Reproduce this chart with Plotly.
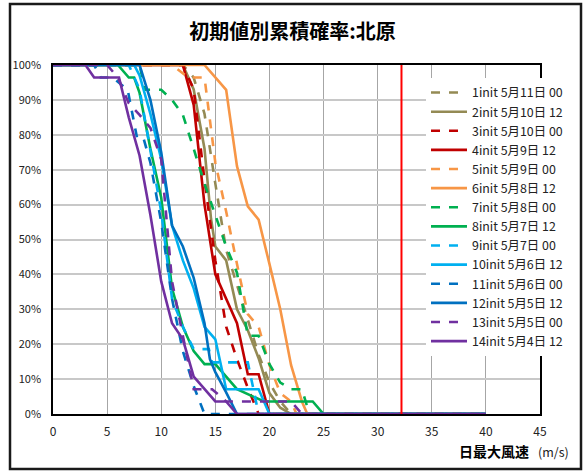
import plotly.graph_objects as go

# ---- data (wind speed m/s, cumulative probability %) ----
LABELS = ["1init 5月11日 00", "2init 5月10日 12", "3init 5月10日 00", "4init 5月9日 12",
          "5init 5月9日 00", "6init 5月8日 12", "7init 5月8日 00", "8init 5月7日 12",
          "9init 5月7日 00", "10init 5月6日 12", "11init 5月6日 00", "12init 5月5日 12",
          "13init 5月5日 00", "14init 5月4日 12"]

X1 = [0, 12, 13, 14, 15, 16, 17, 18, 19, 20, 21, 22, 40]
Y1 = [100, 100, 96.4, 86, 66, 47, 37, 27, 17, 9, 3.6, 0, 0]

X2 = [0, 12, 13, 14, 14.6, 15, 16, 17, 18, 19, 20, 21, 22, 40]
Y2 = [100, 100, 93, 76, 56, 48, 44, 30, 24, 16, 6, 1.8, 0, 0]

X3 = [0, 12, 13, 14, 15, 16, 17, 18, 19, 40]
Y3 = [100, 100, 93, 67, 44, 25, 15.7, 7.5, 0, 0]

X4 = [0, 12, 13, 14, 15, 16, 17, 18, 19, 20, 40]
Y4 = [100, 100, 88.6, 60, 40, 33, 26, 11.4, 11.4, 0, 0]

X5 = [0, 11, 12.5, 14, 15, 16, 17, 18, 19, 20, 21, 22, 22.5, 40]
Y5 = [100, 100, 96.4, 96.4, 72, 58, 43, 28.6, 25, 14, 6, 3.6, 0, 0]

X6 = [0, 14, 16, 17, 18, 19, 20, 21, 22, 23, 23.5, 40]
Y6 = [100, 100, 92.9, 71, 59.5, 55.7, 43, 30, 14, 3.6, 0, 0]

X7 = [0, 8, 8.5, 10, 11, 12, 13, 14, 15, 16, 17, 18, 19, 20, 21, 22, 23, 23.7, 40]
Y7 = [100, 100, 92.9, 92.9, 90, 85.7, 76, 66, 57, 48, 40.5, 22.4, 22.4, 14.3, 9, 7.1, 7.1, 0, 0]

X8 = [0, 6, 7, 7.5, 8, 9, 10, 11, 12, 13, 14, 15, 16, 17, 19.5, 24, 25, 40]
Y8 = [100, 100, 96.4, 96.4, 92, 76, 62, 36, 25, 18, 14.3, 14.3, 10.7, 7.1, 3.6, 3.6, 0, 0]

X9 = [0, 7, 8, 9, 10, 11, 12, 13, 14.4, 14.7, 18, 19, 40]
Y9 = [100, 100, 93, 76, 58, 33, 25, 18.6, 18.6, 14.8, 14.8, 0, 0]

X10 = [0, 7.5, 8, 9, 10, 11, 12, 13, 14, 15, 16, 19, 20, 40]
Y10 = [100, 100, 97, 86, 73, 54, 44, 36, 25, 21.4, 7.1, 7.1, 0, 0]

X11 = [0, 3.8, 4.4, 5.5, 6.9, 7.8, 8.4, 9, 10, 11, 12, 13, 14, 40]
Y11 = [100, 100, 96.4, 96.4, 92.9, 78.6, 78.6, 72, 55, 33, 18, 8, 0, 0]

X12 = [0, 8, 9, 10, 11, 12, 13, 14, 14.5, 15, 16, 17, 40]
Y12 = [100, 100, 90, 75, 54, 48, 39, 26, 15.7, 12, 6.2, 0, 0]

X13 = [0, 5, 6, 7, 8, 9, 10, 10.5, 11, 12, 13, 14.7, 16, 22, 23, 40]
Y13 = [100, 100, 96.4, 89, 85.7, 82, 73, 56, 38, 22.4, 7.1, 7.1, 3.6, 3.6, 0, 0]

X14 = [0, 3, 3.8, 6.1, 7, 8, 9, 10, 11, 12, 13, 14, 15, 16, 17, 40]
Y14 = [100, 100, 96.4, 96.4, 85, 74, 57, 38, 26, 21.4, 10.7, 7.1, 3.6, 3.6, 0, 0]

RECORD_WIND = 32.2  # red reference line (m/s)

XS = [X1, X2, X3, X4, X5, X6, X7, X8, X9, X10, X11, X12, X13, X14]
YS = [Y1, Y2, Y3, Y4, Y5, Y6, Y7, Y8, Y9, Y10, Y11, Y12, Y13, Y14]

PAIR_COLORS = ["#948A54", "#C00000", "#F79646", "#00B050", "#00B0F0", "#0070C0", "#7030A0"]

FONT = "Noto Sans CJK JP, Roboto, sans-serif"

fig = go.Figure()
for i, (xs, ys, name) in enumerate(zip(XS, YS, LABELS)):
    color = PAIR_COLORS[i // 2]
    dash = "dash" if i % 2 == 0 else "solid"
    fig.add_trace(go.Scatter(x=xs, y=ys, mode="lines", name=name,
                             line=dict(color=color, width=2.6, dash=dash)))

fig.add_trace(go.Scatter(x=[RECORD_WIND, RECORD_WIND], y=[0, 100], mode="lines",
                         line=dict(color="#FF0000", width=2), showlegend=False,
                         hoverinfo="skip"))

fig.update_layout(
    width=585, height=472,
    margin=dict(l=53, r=45, t=65, b=58),
    paper_bgcolor="white", plot_bgcolor="white",
    font=dict(family=FONT, size=12, color="#222222"),
    title=dict(text="<b>初期値別累積確率:北原</b>", x=0.5, xanchor="center",
               y=1 - 32 / 472, yanchor="middle", yref="container",
               font=dict(family=FONT, size=20, color="#000000")),
    legend=dict(x=(426 - 53) / 487, y=(414 - 78) / 349, xanchor="left", yanchor="top",
                bgcolor="white", borderwidth=0, tracegroupgap=0, itemwidth=36,
                font=dict(family=FONT, size=12.4, color="#222222")),
    showlegend=True,
)

fig.update_xaxes(range=[0, 45], dtick=5, tick0=0, showgrid=True,
                 gridcolor="#A6A6A6", gridwidth=1,
                 showline=True, linecolor="#000000", linewidth=1.5, mirror=True,
                 ticks="outside", ticklen=6, tickcolor="rgba(0,0,0,0)",
                 tickfont=dict(size=12, color="#222222"), zeroline=False)
fig.update_yaxes(range=[0, 100], dtick=10, tick0=0, ticksuffix="%", showgrid=True,
                 gridcolor="#C8C8C8", gridwidth=1.5,
                 showline=True, linecolor="#000000", linewidth=1.5, mirror=True,
                 ticks="outside", ticklen=8, tickcolor="rgba(0,0,0,0)",
                 tickfont=dict(size=11, color="#222222"), zeroline=False)

fig.add_annotation(text="<b>日最大風速</b>", xref="paper", yref="paper",
                   x=(531 - 53) / 487, y=(414 - 451) / 349, xanchor="right", yanchor="middle",
                   showarrow=False, font=dict(family=FONT, size=14, color="#000000"))
fig.add_annotation(text="(m/s)", xref="paper", yref="paper",
                   x=(536 - 53) / 487, y=(414 - 451) / 349, xanchor="left", yanchor="middle",
                   showarrow=False, font=dict(family=FONT, size=12.5, color="#222222"))

fig.add_shape(type="rect", xref="paper", yref="paper",
              x0=(10 - 53) / 487, x1=(581 - 53) / 487,
              y0=(414 - 469) / 349, y1=(414 - 4) / 349,
              line=dict(color="#1A1A1A", width=2.5), fillcolor="rgba(0,0,0,0)")

fig.write_html("out.html")
